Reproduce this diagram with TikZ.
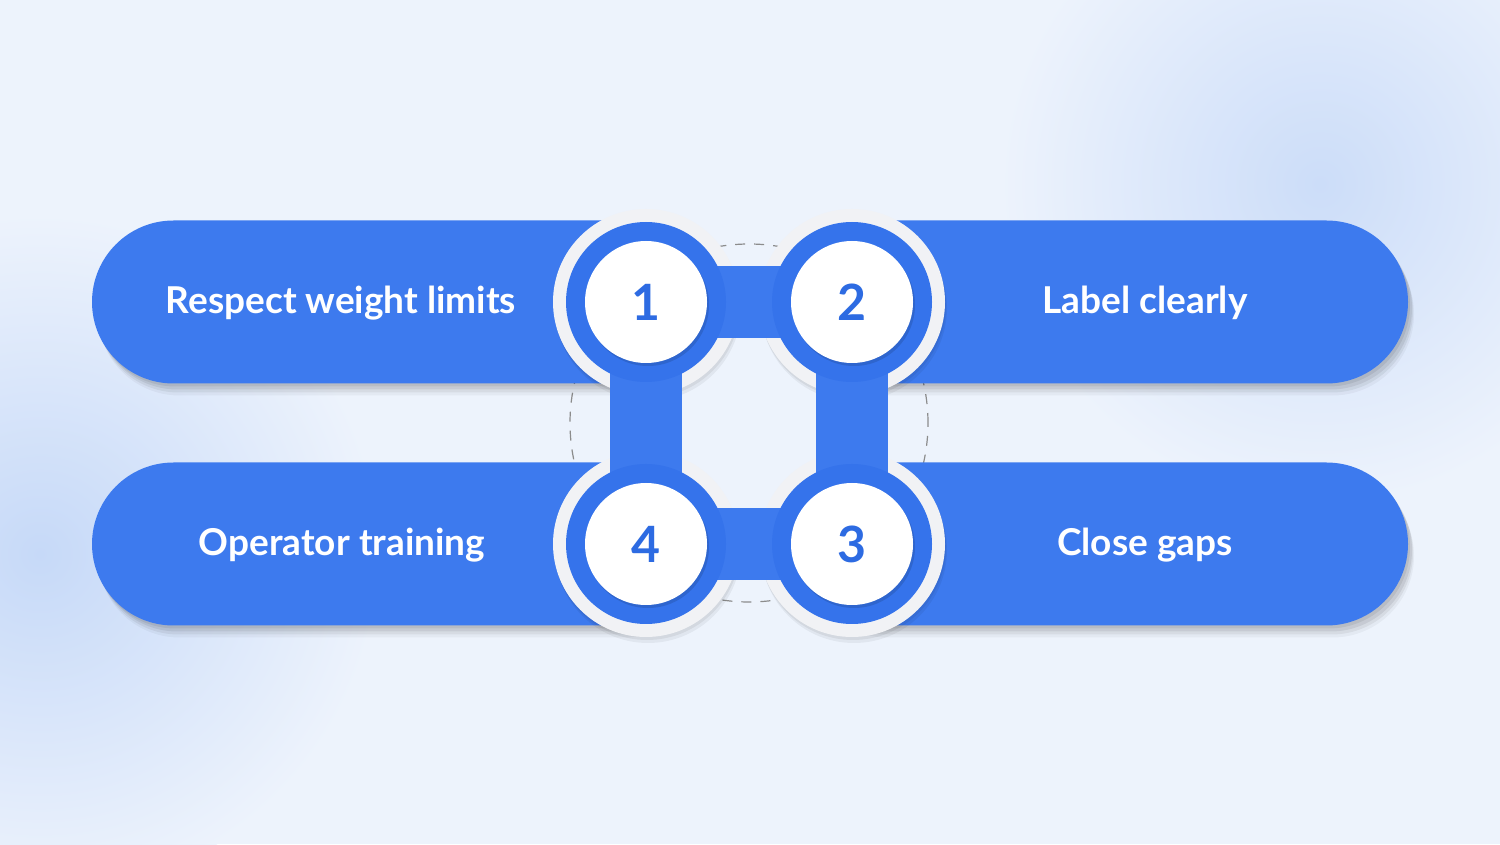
\documentclass[tikz,border=0pt]{standalone}
\usepackage{fontspec}
\setmainfont{Lato}
\usetikzlibrary{shapes.misc,shadows}
\definecolor{bgblue}{HTML}{EDF3FC}
\definecolor{blobblue}{HTML}{C6D9F8}
\definecolor{pillblue}{HTML}{3D7AEE}
\definecolor{ringblue}{HTML}{3573EB}
\definecolor{numblue}{HTML}{2D6BE2}
\definecolor{ringgrey}{HTML}{F1F2F5}
\tikzset{
  pill/.style={rounded rectangle, fill=pillblue, minimum width=608pt,
    minimum height=163pt, inner sep=0pt,
    drop shadow={shadow xshift=2pt, shadow yshift=-3pt, fill=black, opacity=.07},
    drop shadow={shadow xshift=4pt, shadow yshift=-6pt, fill=black, opacity=.07},
    drop shadow={shadow xshift=5pt, shadow yshift=-9pt, fill=black, opacity=.06},
    drop shadow={shadow xshift=6pt, shadow yshift=-12pt, fill=black, opacity=.04}},
  pilltext/.style={text=white, font=\fontsize{37}{42}\selectfont\bfseries},
  outerring/.style={circle, fill=ringgrey, minimum size=186pt, inner sep=0pt,
    drop shadow={shadow xshift=1pt, shadow yshift=-3pt, fill=black, opacity=.06},
    drop shadow={shadow xshift=2pt, shadow yshift=-6pt, fill=black, opacity=.05}},
  bluering/.style={circle, fill=ringblue, minimum size=160pt, inner sep=0pt},
  numdisc/.style={circle, fill=white, minimum size=122pt, inner sep=0pt,
    text=numblue, font=\fontsize{50}{52}\selectfont\bfseries,
    drop shadow={shadow xshift=2pt, shadow yshift=-3pt, fill=black, opacity=.12}},
  bar/.style={line width=72pt, draw=pillblue},
  guide/.style={draw=black!45, line width=1.2pt, dash pattern=on 10pt off 9pt}
}
\begin{document}
\begin{tikzpicture}[x=1pt,y=1pt]
\useasboundingbox (0,0) rectangle (1500,844);
% background
\begin{scope}
\clip (0,0) rectangle (1500,844);
\fill[bgblue] (0,0) rectangle (1500,844);
\shade[inner color=blobblue, outer color=bgblue] (40,290) circle (340);
\shade[inner color=blobblue!85!bgblue, outer color=bgblue] (1320,660) circle (320);
\end{scope}
% dashed guide circle
\coordinate (mid) at (749,421);
\draw[guide] (mid) circle (179);
% bars with labels
\node[pill] (p1) at (396,542) {};
\node[pill] (p2) at (1104,542) {};
\node[pill] (p3) at (1104,300) {};
\node[pill] (p4) at (396,300) {};
\node[pilltext] (t1) at (341,541) {Respect weight limits};
\node[pilltext] (t2) at (1145,541) {Label clearly};
\node[pilltext] (t3) at (1145,299) {Close gaps};
\node[pilltext] (t4) at (342,299) {Operator training};
% step circles
\node[outerring] (r1) at (646,542) {};
\node[outerring] (r2) at (852,542) {};
\node[outerring] (r3) at (852,300) {};
\node[outerring] (r4) at (646,300) {};
\draw[bar] (r1.center) -- (r2.center);
\draw[bar] (r2.center) -- (r3.center);
\draw[bar] (r3.center) -- (r4.center);
\draw[bar] (r4.center) -- (r1.center);
\node[bluering] (b1) at (r1) {};
\node[bluering] (b2) at (r2) {};
\node[bluering] (b3) at (r3) {};
\node[bluering] (b4) at (r4) {};
\node[numdisc] (n1) at (b1) {1};
\node[numdisc] (n2) at (b2) {2};
\node[numdisc] (n3) at (b3) {3};
\node[numdisc] (n4) at (b4) {4};
\end{tikzpicture}
\end{document}
